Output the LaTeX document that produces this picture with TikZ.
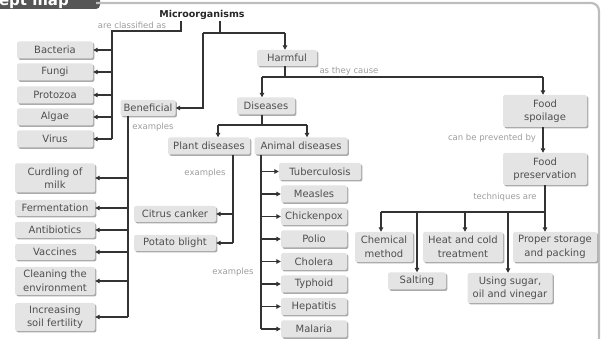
\documentclass[tikz,border=0pt]{standalone}
\usepackage{fontspec}
\setmainfont{DejaVu Sans}
\usetikzlibrary{arrows.meta,shadows}
\definecolor{boxfill}{HTML}{E4E4E4}
\definecolor{boxshade}{HTML}{ABABAB}
\definecolor{boxtext}{HTML}{4F4F4F}
\definecolor{linecol}{HTML}{333333}
\definecolor{labcol}{HTML}{9C9C9C}
\definecolor{tabcol}{HTML}{555555}
\definecolor{framecol}{HTML}{BDBDBD}
\begin{document}
\begin{tikzpicture}[x=1pt,y=-1pt,
  box/.style={rectangle, rounded corners=2pt, fill=boxfill, text=boxtext, align=center,
    inner sep=1pt, font=\fontsize{10}{13.5}\selectfont,
    drop shadow={shadow xshift=1.4pt, shadow yshift=-1.4pt, fill=boxshade, opacity=1}},
  sz/.style 2 args={minimum width=#1, minimum height=#2},
  lab/.style={text=labcol, font=\fontsize{8.5}{10}\selectfont, inner sep=0pt},
  conn/.style={draw=linecol, line width=1.2pt},
  arr/.style={conn, -{Triangle[length=4.5pt,width=4.5pt]}},
]
\useasboundingbox (0,0) rectangle (603,339);
\clip (0,0) rectangle (603,339);

% frame and title tab
\fill[tabcol, rounded corners=4pt] (-10,-10) rectangle (100,9);
\node[anchor=base east, text=white, font=\bfseries\fontsize{15}{15}\selectfont, inner sep=0pt] (ttl) at (69,6) {Concept map};
\draw[framecol, line width=2.2pt, rounded corners=8pt] (96,3) -- (599,3) -- (599,350);

% root
\node[text=black!85, font=\bfseries\fontsize{9.5}{10}\selectfont, inner sep=1pt] (micro) at (202,15) {Microorganisms};

% classification column
\node[box, sz={76}{17}] (bact) at (55,50) {Bacteria};
\node[box, sz={76}{17}] (fungi) at (55,72) {Fungi};
\node[box, sz={76}{17}] (proto) at (55,95) {Protozoa};
\node[box, sz={76}{17}] (algae) at (55,117) {Algae};
\node[box, sz={76}{17}] (virus) at (55,139) {Virus};

% beneficial column
\node[box, sz={80}{29}] (curd) at (55,178) {Curdling of\\milk};
\node[box, sz={80}{16}] (ferm) at (55,208) {Fermentation};
\node[box, sz={80}{16}] (anti) at (55,230) {Antibiotics};
\node[box, sz={80}{16}] (vacc) at (55,252) {Vaccines};
\node[box, sz={80}{28}] (clean) at (55,281) {Cleaning the\\environment};
\node[box, sz={80}{28}] (incr) at (55,317) {Increasing\\soil fertility};

\node[box, sz={55}{16}] (ben) at (148,108) {Beneficial};
\node[box, sz={60}{16}] (harm) at (287,58) {Harmful};
\node[box, sz={58}{17}] (dis) at (266,106) {Diseases};
\node[box, sz={82}{17}] (plant) at (209,146) {Plant diseases};
\node[box, sz={93}{17}] (animal) at (301,146) {Animal diseases};
\node[box, sz={82}{16}] (citrus) at (175,214) {Citrus canker};
\node[box, sz={82}{16}] (potato) at (175,243) {Potato blight};

\node[box, sz={82}{17}] (tub) at (320,171.5) {Tuberculosis};
\node[box, sz={66}{17}] (meas) at (314,194) {Measles};
\node[box, sz={66}{17}] (chick) at (314,216.5) {Chickenpox};
\node[box, sz={66}{17}] (polio) at (314,239) {Polio};
\node[box, sz={66}{17}] (chol) at (314,261.5) {Cholera};
\node[box, sz={66}{17}] (typh) at (314,284) {Typhoid};
\node[box, sz={66}{17}] (hep) at (314,306.5) {Hepatitis};
\node[box, sz={66}{17}] (mal) at (314,329) {Malaria};

\node[box, sz={84}{32}] (spoil) at (545,111) {Food\\spoilage};
\node[box, sz={84}{32}] (pres) at (545,169) {Food\\preservation};
\node[box, sz={58}{30}] (chem) at (384,247) {Chemical\\method};
\node[box, sz={80}{30}] (heat) at (463,247) {Heat and cold\\treatment};
\node[box, sz={84}{30}] (proper) at (555,247) {Proper storage\\and packing};
\node[box, sz={58}{17}] (salt) at (417,281) {Salting};
\node[box, sz={85}{30}] (sugar) at (510,288) {Using sugar,\\oil and vinegar};

% labels
\node[lab] (l1) at (132,25) {are classified as};
\node[lab] (l2) at (153,127) {examples};
\node[lab] (l3) at (349,71) {as they cause};
\node[lab] (l4) at (205,173) {examples};
\node[lab] (l5) at (233,272) {examples};
\node[lab] (l6) at (492,138) {can be prevented by};
\node[lab] (l7) at (505,197) {techniques are};

% connectors: microorganisms -> classification
\coordinate (ca) at (181,31);
\coordinate (ta) at (112,31);
\draw[conn] (micro.south -| ca) -- (ca) -- (ta) -- (ta |- virus.east);
\foreach \n in {bact,fungi,proto,algae,virus}
  \draw[arr] (ta |- \n.east) -- (\n.east);

% microorganisms -> beneficial / harmful
\coordinate (cb) at (220,33);
\coordinate (cl) at (203,33);
\coordinate (cr) at (285,33);
\draw[conn] (micro.south -| cb) -- (cb);
\draw[conn] (cl) -- (cr);
\draw[arr] (cr) -- (cr |- harm.north);
\draw[arr] (cl) |- (ben.east);

% beneficial -> examples
\coordinate (tb) at (128,0);
\draw[conn] (tb |- ben.south) -- (tb |- incr.east);
\foreach \n in {curd,ferm,anti,vacc,clean,incr}
  \draw[arr] (tb |- \n.east) -- (\n.east);

% harmful -> diseases / food spoilage
\coordinate (hm) at (285,77);
\coordinate (hl) at (262,77);
\coordinate (hr) at (543,77);
\draw[conn] (hm |- harm.south) -- (hm);
\draw[conn] (hl) -- (hr);
\draw[arr] (hl) -- (hl |- dis.north);
\draw[arr] (hr) -- (hr |- spoil.north);

% diseases -> plant / animal
\coordinate (dm) at (262,125);
\coordinate (dl) at (218,125);
\coordinate (dr) at (307,125);
\draw[conn] (dm |- dis.south) -- (dm);
\draw[conn] (dl) -- (dr);
\draw[arr] (dl) -- (dl |- plant.north);
\draw[arr] (dr) -- (dr |- animal.north);

% plant diseases
\coordinate (tp) at (233,0);
\draw[conn] (tp |- plant.south) -- (tp |- potato.east);
\foreach \n in {citrus,potato}
  \draw[arr] (tp |- \n.east) -- (\n.east);

% animal diseases
\coordinate (tn) at (261,0);
\draw[conn] (tn |- animal.south) -- (tn |- mal.west);
\foreach \n in {tub,meas,chick,polio,chol,typh,hep,mal}
  \draw[arr] (tn |- \n.west) -- (\n.west);

% food
\draw[arr] (hr |- spoil.south) -- (hr |- pres.north);
\coordinate (pv) at (545,212);
\coordinate (pl) at (381,212);
\coordinate (p2) at (417,212);
\coordinate (p3) at (465,212);
\coordinate (p4) at (508,212);
\draw[conn] (pv |- pres.south) -- (pv);
\draw[conn] (pl) -- (pv);
\draw[arr] (pl) -- (pl |- chem.north);
\draw[arr] (p2) -- (p2 |- salt.north);
\draw[arr] (p3) -- (p3 |- heat.north);
\draw[arr] (p4) -- (p4 |- sugar.north);
\draw[arr] (pv) -- (pv |- proper.north);
\end{tikzpicture}
\end{document}
